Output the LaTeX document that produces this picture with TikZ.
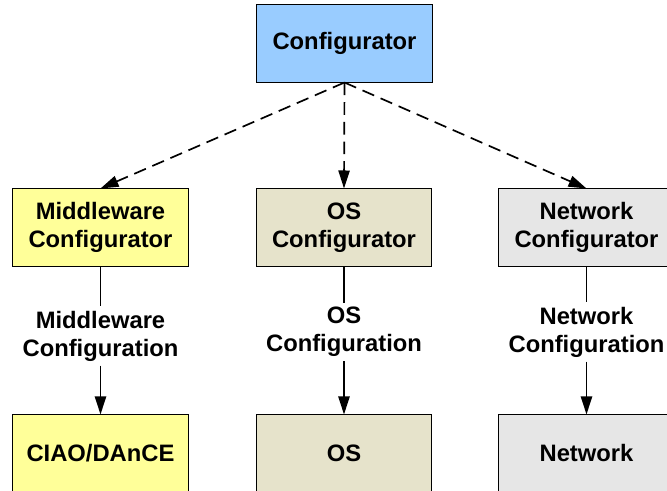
\documentclass[tikz,border=0pt]{standalone}
\usepackage{fontspec}
\setmainfont{Liberation Sans}
\usetikzlibrary{arrows.meta}

\definecolor{cfgblue}{HTML}{99CCFF}
\definecolor{mwyellow}{HTML}{FFFF99}
\definecolor{osbeige}{HTML}{E6E3CB}
\definecolor{netgrey}{HTML}{E6E6E6}

\begin{document}
\begin{tikzpicture}[
    x=0.025cm,
    y=-0.025cm,
    font=\fontsize{16.9}{20}\selectfont\bfseries,
    cfgbox/.style={
        rectangle,
        draw,
        line width=0.7pt,
        inner sep=0pt,
        minimum width=4.375cm,
        minimum height=1.925cm,
        align=center,
    },
    lbl/.style={
        align=center,
        inner sep=3pt,
    },
    tip/.style={
        line width=1.2pt,
        -{Triangle[length=0.45cm, width=0.28cm]},
    },
]
\useasboundingbox (0,0) rectangle (667,491);
\clip (0,0) rectangle (667,491);

\node[cfgbox, fill=cfgblue] (cfg) at (344.5,43.5) {Configurator};

\node[cfgbox, fill=mwyellow] (mw)  at (100.5,227.5) {Middleware\\Configurator};
\node[cfgbox, fill=osbeige]  (os)  at (344,227.5)   {OS\\Configurator};
\node[cfgbox, fill=netgrey]  (net) at (586.5,227.5) {Network\\Configurator};

\node[lbl] (mwlbl)  at (100.5,336) {Middleware\\Configuration};
\node[lbl] (oslbl)  at (344,332)   {OS\\Configuration};
\node[lbl] (netlbl) at (586.5,332) {Network\\Configuration};

\node[cfgbox, fill=mwyellow] (ciao)  at (100.5,453.5) {CIAO/DAnCE};
\node[cfgbox, fill=osbeige]  (osb)   at (344,453.5)   {OS};
\node[cfgbox, fill=netgrey]  (netb)  at (586.5,453.5) {Network};

\draw[tip, dash pattern=on 9pt off 5pt] (cfg.south) -- (mw.north);
\draw[tip, dash pattern=on 9pt off 5pt] (cfg.south) -- (os.north);
\draw[tip, dash pattern=on 9pt off 5pt] (cfg.south) -- (net.north);

\draw[line width=1.2pt] (mw.south) -- (mwlbl.north);
\draw[tip] (mwlbl.south) -- (ciao.north);
\draw[line width=1.2pt] (os.south) -- (oslbl.north);
\draw[tip] (oslbl.south) -- (osb.north);
\draw[line width=1.2pt] (net.south) -- (netlbl.north);
\draw[tip] (netlbl.south) -- (netb.north);

\end{tikzpicture}
\end{document}
